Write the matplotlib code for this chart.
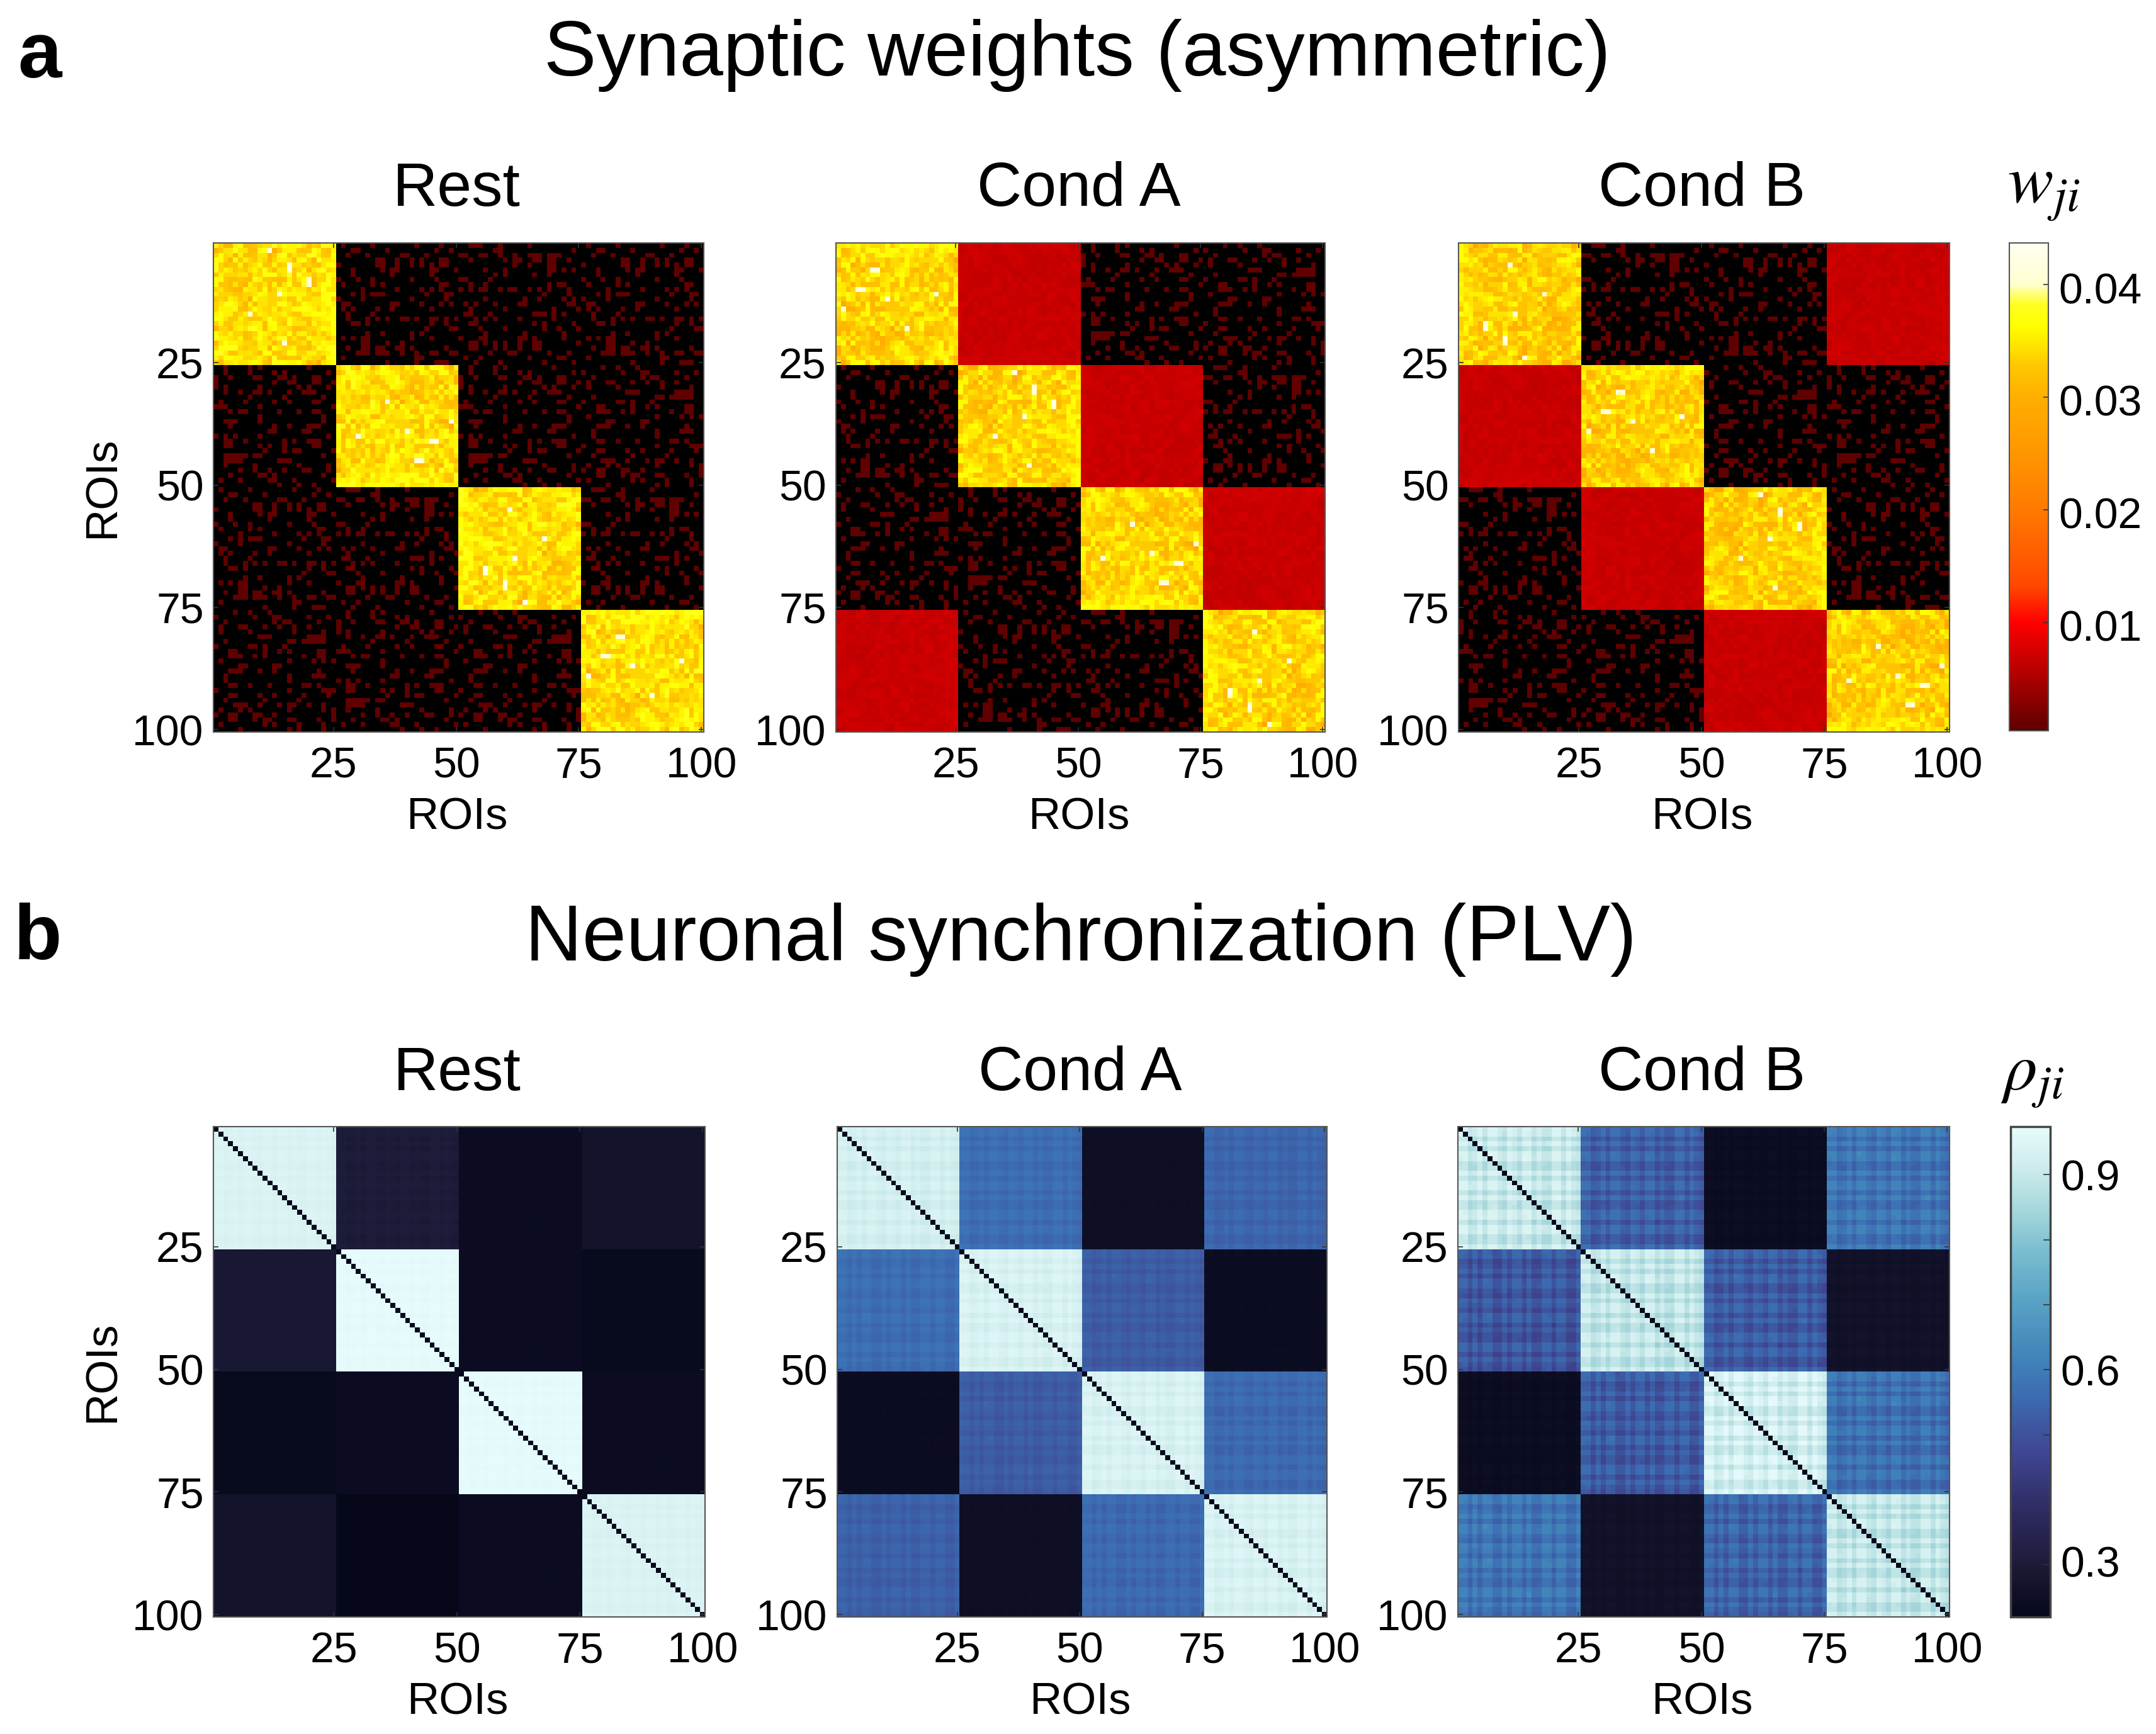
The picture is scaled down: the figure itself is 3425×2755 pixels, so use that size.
import numpy as np
import matplotlib
matplotlib.use('Agg')
import matplotlib.pyplot as plt
from matplotlib.cm import ScalarMappable
from matplotlib.colors import LinearSegmentedColormap, Normalize
from matplotlib.transforms import ScaledTranslation

plt.rcParams['font.family'] = ['Liberation Sans', 'DejaVu Sans']
plt.rcParams['mathtext.fontset'] = 'stix'

W, H = 3425, 2755

panel_titles = ['Rest', 'Cond A', 'Cond B']
roi_ticks = [25, 50, 75, 100]

# block means (4 modules x 4 modules)
weight_blocks = [
    [[.0332, 0, 0, 0], [0, .0332, 0, 0], [0, 0, .0332, 0], [0, 0, 0, .0332]],
    [[.0325, .0066, 0, 0], [0, .0325, .0066, 0], [0, 0, .0325, .0066], [.0066, 0, 0, .0325]],
    [[.032, 0, 0, .0066], [.0066, .032, 0, 0], [0, .0066, .032, 0], [0, 0, .0066, .032]],
]
plv_blocks = [
    [[.94, .30, .24, .27], [.29, .97, .24, .23], [.23, .24, .97, .24], [.27, .22, .24, .94]],
    [[.92, .56, .25, .54], [.56, .93, .52, .24], [.24, .52, .93, .55], [.53, .25, .55, .93]],
    [[.89, .52, .24, .57], [.50, .88, .51, .26], [.24, .51, .91, .56], [.57, .26, .53, .88]],
]
plv_amp = [0.002, 0.006, 0.015]

hot_tile = """
75227 83345 66968 77863 54987
24669 66338 9x147 77444 87437
58562 73346 62489 46558 96448
88528 47546 52577 63785 29667
95344 73568 44745 x6645 43688
95764 54675 85366 x4572 68956
47555 66365 88856 94966 46587
88433 43397 44333 7468x 35596
84436 32754 63736 8449x 36886
56432 27664 83597 57664 76966
75554 45568 755x8 77775 44889
45476 45186 65556 44855 66895
56897 52736 65598 64587 66797
57778 33586 55746 68898 75769
78774 57x57 65667 54477 88878
98644 75444 69655 86544 66788
57446 65677 38854 96663 75669
25536 76997 37866 53345 56878
86575 53458 76465 84775 46468
97765 73468 64699 46448 66646
36877 65547 6635x 44563 76877
58999 54557 72865 67443 59799
99744 66653 88445 88557 75679
75887 75567 53943 44376 55389
53667 66787 43988 77863 41679
"""
speckle_tile = """
..### ...#. ....# ..... .....
..... ..##. ..... ..... ...#.
##..# #..#. .#..# ##.## #....
..#.. ....# .##.. ##.## ..#..
..... ..... .#..# ...## .....
..... #...# ..... ...## .#.#.
..... ..#.# ..... #..#. .....
##... .#... ..... ..... .....
..#.. #.... ..... ...#. ##...
#.#.# #..#. ##..# .#.#. ..#..
..... ..... ..... ..#.. ..#..
..... #.... ...#. .#... .#.#.
.#.#. ..#.. ..##. ..... ..##.
..#.. ....# ..... ....# ....#
.##.. .#... ..... ###.# .#...
...#. #.#.. ..#.. ....# .....
..##. ..... ..... #.#.. ...#.
....# ....# ..... ..#.. #...#
..... #.... ...#. ..... .#...
#...# #.... ..##. #.... .#...
..##. #.#.# ..#.. ##... ....#
..##. ..#.# ..#.. ##... .....
..... .#... ##... ...#. ..#..
.#..# ..... ....# ..... ##...
...#. ...#. ..... ..#.. ...#.
"""
plv_tile = """
88568 58865 87588 57558 85865
87568 58864 87587 57558 85875
55235 25532 54255 24225 52532
88578 58865 86588 57568 85865
55235 25532 54245 24225 53532
88568 59865 87588 47558 85865
78568 58865 87598 57558 85855
45235 25532 54255 24325 52532
55225 25542 54255 24225 52432
88568 58875 87588 57558 85865
55335 25532 54255 25225 52532
88568 58865 77588 57558 84865
88668 58865 87588 57548 85865
55235 24532 54255 24225 52532
88568 58865 87688 57558 95865
55234 25532 55255 24225 52532
55235 25632 54255 24235 52532
87568 58865 87588 57558 85865
88568 68865 87578 57558 85866
55235 25532 54255 14225 52532
88558 58865 87588 57658 85865
88568 58855 87588 57558 75865
56235 25532 54254 24225 52532
55235 35532 54255 24225 52522
88568 58865 86588 58558 85865
"""

# colormap stops: value, colour
weight_lims = (0.00036, 0.0437)
weight_stops = [(0.00036, '#5e0000'), (0.01, '#ff0000'), (0.0132, '#ff4800'), (0.02, '#ff7a00'),
                (0.0257, '#ff9a00'), (0.03, '#ffae00'), (0.0329, '#ffc800'), (0.0346, '#ffe400'),
                (0.0364, '#ffff00'), (0.0382, '#ffff20'), (0.0395, '#ffff90'), (0.04, '#ffffd0'),
                (0.0437, '#fffff0')]
plv_lims = (0.22, 0.974)
plv_stops = [(0.22, '#06081a'), (0.30, '#1c1b38'), (0.38, '#2e2a60'), (0.47, '#3f4590'),
             (0.56, '#3c6cb2'), (0.62, '#4184ba'), (0.70, '#57a0c4'), (0.78, '#79bccf'),
             (0.85, '#a8d8dc'), (0.92, '#d2eeee'), (0.974, '#e6fbfc')]


def read_tile(text):
    rows = [r.replace(' ', '') for r in text.strip().splitlines()]
    return rows


def make_cmap(stops, lims):
    lo, hi = lims
    return LinearSegmentedColormap.from_list(
        'c', [((v - lo) / (hi - lo), c) for v, c in stops], N=512)


def weight_matrix(blocks, panel):
    hot = np.array([[13 if c == 'x' else int(c) for c in r] for r in read_tile(hot_tile)], dtype=float)
    spk = np.array([[c == '#' for c in r] for r in read_tile(speckle_tile)], dtype=float)
    rows = []
    for i in range(4):
        row = []
        for j in range(4):
            k = i + 2 * j + panel
            m = blocks[i][j]
            if m == 0:
                cell = np.rot90(spk, k) * 0.0006
                if k % 2:
                    cell = cell[::-1]
            elif m < 0.02:
                cell = m + 0.00018 * (np.rot90(hot, k).clip(0, 9) - 4.5)
            else:
                cell = m + 0.001 * (np.rot90(hot, k) - 4.5)
            row.append(cell)
        rows.append(row)
    return np.block(rows)


def plv_matrix(blocks, amp):
    tile = np.array([[int(c) for c in r] for r in read_tile(plv_tile)], dtype=float)
    rows = []
    for i in range(4):
        row = []
        for j in range(4):
            m = blocks[i][j]
            t = tile if i <= j else tile.T
            a = amp * 0.15 if m < 0.3 else amp
            row.append(m + a * (t - 4.5))
        rows.append(row)
    out = np.block(rows)
    np.fill_diagonal(out, 0.22)
    return out


def add_box(fig, l, t, r, b):
    return fig.add_axes([l / W, 1 - b / H, (r - l) / W, (b - t) / H])


def put(fig, x, y, s, **kw):
    fig.text(x / W, 1 - y / H, s, ha='center', va='center', **kw)


fig = plt.figure(figsize=(W / 100, H / 100), dpi=100)

row_a_x = [(339, 1118), (1328, 2105), (2317, 3097)]
row_b_x = [(339, 1120), (1330, 2108), (2316, 3097)]

weight_cmap = make_cmap(weight_stops, weight_lims)
weight_cmap.set_under('black')
plv_cmap = make_cmap(plv_stops, plv_lims)
plv_cmap.set_under(plv_stops[0][1])


def draw_row(xs, top, bottom, data, cmap, lims, title_y):
    for n, (l, r) in enumerate(xs):
        ax = add_box(fig, l, top, r, bottom)
        ax.imshow(data[n], cmap=cmap, vmin=lims[0], vmax=lims[1], aspect='auto',
                  interpolation='nearest', extent=(0.5, 100.5, 100.5, 0.5))
        ax.set_xticks(roi_ticks)
        ax.set_yticks(roi_ticks)
        ax.tick_params(direction='in', length=6, width=1.2, color='#333333', labelsize=49,
                       pad=11, top=True, right=True)
        ax.tick_params(axis='x', pad=16)
        for s in ax.spines.values():
            s.set_linewidth(1.5)
            s.set_color('#555555')
        put(fig, (l + r) / 2 - 3, title_y, panel_titles[n], fontsize=71)
        put(fig, (l + r) / 2 - 3, bottom + 136, 'ROIs', fontsize=51)
    put(fig, 164, (top + bottom) / 2, 'ROIs', fontsize=51, rotation=90)


def nudge_labels(cax, dy_px):
    # tick labels sit a little off their ticks in the reference
    for lab, d in zip(cax.get_yticklabels(), dy_px):
        lab.set_transform(lab.get_transform() + ScaledTranslation(0, d / 100, fig.dpi_scale_trans))


weights = [weight_matrix(weight_blocks[n], n) for n in range(3)]
plvs = [plv_matrix(plv_blocks[n], plv_amp[n]) for n in range(3)]

draw_row(row_a_x, 386, 1163, weights, weight_cmap, weight_lims, 302)
draw_row(row_b_x, 1790, 2569, plvs, plv_cmap, plv_lims, 1707)

# colorbars
cax = add_box(fig, 3192, 386, 3254, 1161)
cb = fig.colorbar(ScalarMappable(Normalize(*weight_lims), weight_cmap), cax=cax)
cax.set_yticks([0.01, 0.02, 0.03, 0.04], ['0.01', '0.02', '0.03', '0.04'])
cax.tick_params(direction='in', length=6, width=1.2, color='#333333', labelsize=49, pad=12)
cb.outline.set_linewidth(1.5)
cb.outline.set_edgecolor('#555555')
nudge_labels(cax, [-5, -5, -5, -5])

cax = add_box(fig, 3194, 1790, 3257, 2569)
cb = fig.colorbar(ScalarMappable(Normalize(*plv_lims), plv_cmap), cax=cax)
cax.set_yticks([0.3, 0.4, 0.5, 0.6, 0.7, 0.8, 0.9], ['0.3', '', '', '0.6', '', '', '0.9'])
cax.tick_params(direction='in', length=8, width=1.2, color='#333333', labelsize=49, pad=12)
cb.outline.set_linewidth(2.5)
cb.outline.set_edgecolor('#444444')
nudge_labels(cax, [6, 0, 0, 0, 0, 0, 0])

put(fig, 3247, 305, r'$w_{ji}$', fontsize=78)
put(fig, 3228, 1712, r'$\rho_{ji}$', fontsize=77)

put(fig, 1711, 88, 'Synaptic weights (asymmetric)', fontsize=90)
put(fig, 1717, 1493, 'Neuronal synchronization (PLV)', fontsize=90.5)
put(fig, 63, 91, 'a', fontsize=90, fontweight='bold')
put(fig, 60, 1492, 'b', fontsize=90, fontweight='bold')

fig.savefig('out.png', dpi=100)
